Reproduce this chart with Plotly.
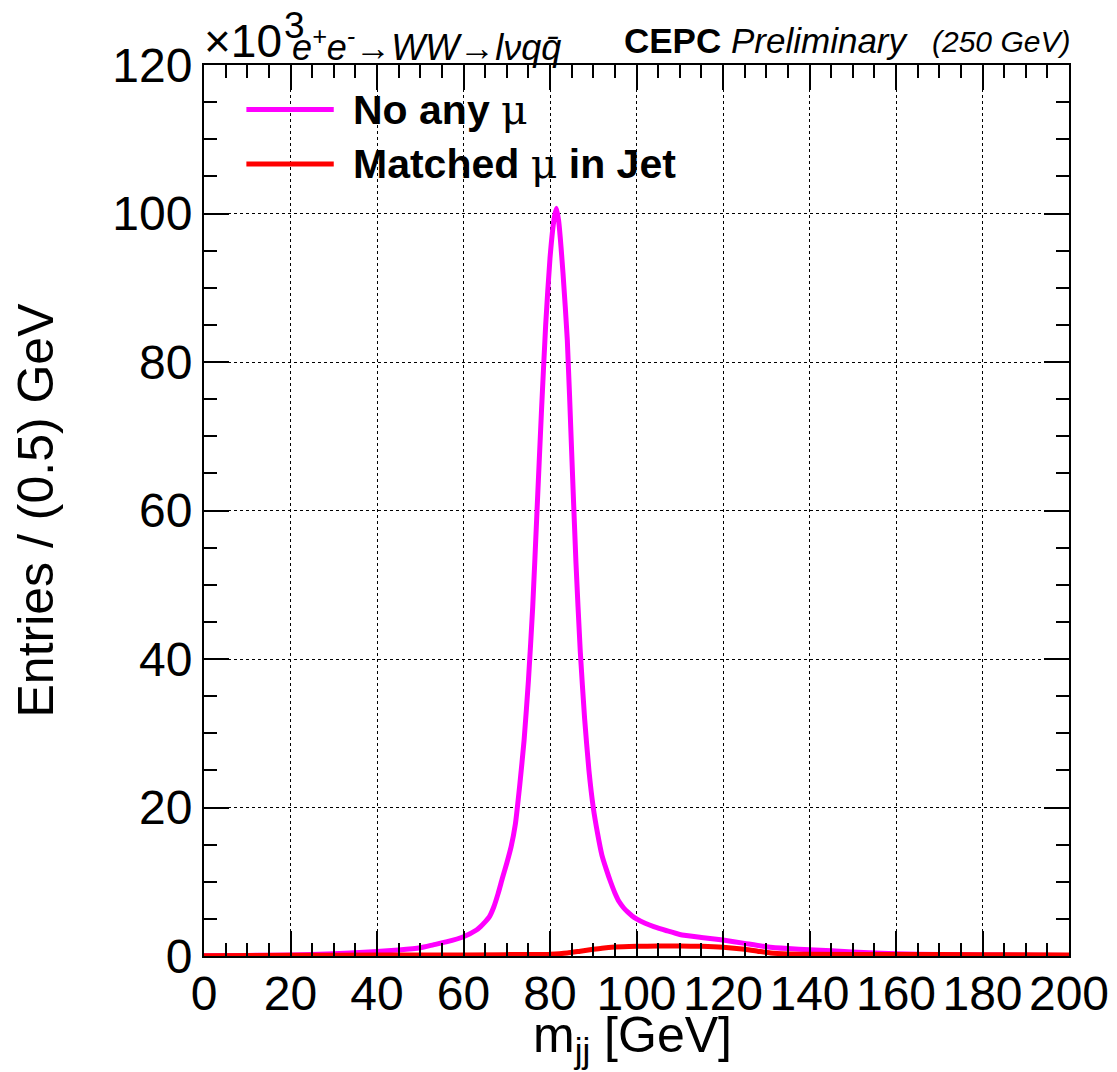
import plotly.graph_objects as go

# m_jj spectrum, entries per 0.5 GeV in units of 10^3
mjj_nomu = [0, 10, 20, 30, 40, 45, 50, 53, 56, 60, 63, 64, 65, 66, 67, 68, 69, 70, 71,
            72, 73, 74, 75, 76, 77, 78, 79, 80, 81, 81.5, 82, 83, 84, 85, 86, 87, 88,
            89, 90, 91, 92, 93, 94, 95, 96, 97, 98, 99, 100, 102, 104, 107, 110, 115,
            120, 125, 130, 135, 140, 150, 160, 170, 180, 190, 200]
entries_nomu = [0.05, 0.08, 0.15, 0.3, 0.6, 0.8, 1.1, 1.5, 1.9, 2.6, 3.5, 4.0, 4.6, 5.3,
                6.6, 8.4, 10.5, 12.5, 14.7, 17.8, 23, 29, 37, 47, 60, 73, 85, 94, 99.5,
                100.7, 99, 92, 83, 68, 53, 41, 32, 25, 20, 16.5, 13.6, 11.7, 10, 8.5, 7.3,
                6.5, 5.9, 5.4, 5.0, 4.4, 3.95, 3.4, 2.9, 2.5, 2.15, 1.7, 1.25, 1.0, 0.85,
                0.55, 0.3, 0.2, 0.15, 0.1, 0.08]

mjj_mu = [0, 20, 40, 60, 80, 84, 87, 90, 92, 95, 100, 105, 110, 115, 120, 125, 128,
          131, 135, 140, 160, 180, 200]
entries_mu = [0.05, 0.1, 0.12, 0.15, 0.25, 0.4, 0.65, 0.9, 1.05, 1.2, 1.3, 1.35, 1.35,
              1.3, 1.17, 0.9, 0.65, 0.4, 0.28, 0.22, 0.2, 0.18, 0.15]

FONT = "Liberation Sans, Arial, Helvetica, sans-serif"
MAGENTA = "#ff00ff"
RED = "#ff0000"

fig = go.Figure()
fig.add_trace(go.Scatter(x=mjj_nomu, y=entries_nomu, mode="lines", name="No any μ",
                         line=dict(color=MAGENTA, width=5, shape="spline", smoothing=0.5),
                         showlegend=False))
fig.add_trace(go.Scatter(x=mjj_mu, y=entries_mu, mode="lines", name="Matched μ in Jet",
                         line=dict(color=RED, width=5, shape="spline", smoothing=0.5),
                         showlegend=False))

axis_common = dict(
    showline=True, linewidth=2, linecolor="black", mirror="allticks",
    ticks="inside", ticklen=25, tickwidth=1.5, tickcolor="black",
    showgrid=True, gridcolor="black", griddash="dot", gridwidth=1,
    zeroline=False, tickfont=dict(family=FONT, size=48, color="black"),
    minor=dict(dtick=5, ticks="inside", ticklen=13, tickcolor="black", tickwidth=1.5,
               showgrid=False),
)

fig.update_xaxes(range=[0, 200], dtick=20, tick0=0, tickangle=0, ticklabelstandoff=-6,
                 **axis_common)
fig.update_yaxes(range=[0, 120], dtick=20, tick0=0,
                 title=dict(text="Entries / (0.5) GeV", standoff=44,
                            font=dict(family=FONT, size=50, color="black")),
                 **axis_common)

# x title as an annotation so it can sit closer to the tick labels
fig.add_annotation(xref="paper", yref="paper", x=0.5, y=0.0, xanchor="center", yanchor="top",
                   xshift=-4, yshift=-49, showarrow=False, text="m<sub>jj</sub> [GeV]",
                   font=dict(family=FONT, size=50, color="black"))

# legend drawn by hand so the line samples get ROOT-like length
mu = "<span style='font-family:DejaVu Serif;font-weight:normal'>μ</span>"
legend_rows = [("No any " + mu, MAGENTA, 0.95),
               ("Matched " + mu + " in Jet", RED, 0.889)]
for label, col, yy in legend_rows:
    fig.add_shape(type="line", xref="paper", yref="paper", x0=0.049, x1=0.150,
                  y0=yy, y1=yy, line=dict(color=col, width=5))
    fig.add_annotation(xref="paper", yref="paper", x=0.17, y=yy, xanchor="left",
                       yanchor="middle", showarrow=False, text="<b>" + label + "</b>",
                       font=dict(family=FONT, size=41, color="black"))

# top labels
fig.add_annotation(xref="paper", yref="paper", x=0.0, y=1.0, xanchor="left", yanchor="bottom",
                   xshift=-2, yshift=-4, showarrow=False, text="×10",
                   font=dict(family=FONT, size=46, color="black"))
fig.add_annotation(xref="paper", yref="paper", x=0.0, y=1.0, xanchor="left", yanchor="bottom",
                   xshift=78, yshift=17, showarrow=False, text="3",
                   font=dict(family=FONT, size=37, color="black"))
fig.add_annotation(xref="paper", yref="paper", x=0.0, y=1.0, xanchor="left", yanchor="bottom",
                   xshift=86, yshift=-5, showarrow=False,
                   text="<i>e<sup>+</sup>e<sup>-</sup>→WW→lνqq̄</i>",
                   font=dict(family=FONT, size=36, color="black"))
fig.add_annotation(xref="paper", yref="paper", x=0.0, y=1.0, xanchor="left", yanchor="bottom",
                   xshift=418, yshift=3, showarrow=False,
                   text="<b>CEPC</b> <i>Preliminary</i>",
                   font=dict(family=FONT, size=35, color="black"))
fig.add_annotation(xref="paper", yref="paper", x=1.0, y=1.0, xanchor="right", yanchor="bottom",
                   xshift=3, yshift=5, showarrow=False, text="<i>(250 GeV)</i>",
                   font=dict(family=FONT, size=30, color="black"))

fig.update_layout(
    width=1117, height=1072,
    margin=dict(l=196, r=56, t=57, b=124),
    paper_bgcolor="white", plot_bgcolor="white",
    font=dict(family=FONT, color="black"),
)

fig.write_html("out.html")
